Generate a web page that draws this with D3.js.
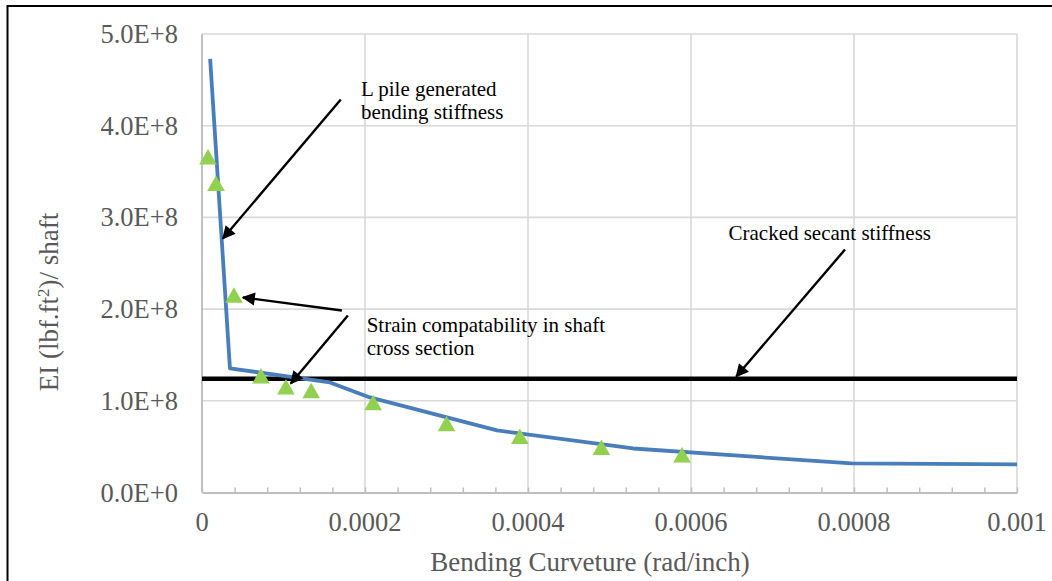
<!DOCTYPE html>
<html>
<head>
<meta charset="utf-8">
<script src="https://cdn.jsdelivr.net/npm/d3@7"></script>
<style>
  html, body { margin: 0; padding: 0; background: #ffffff; }
  svg { display: block; }
</style>
</head>
<body>
<svg id="chart" width="1052" height="581"></svg>
<script>
// LPILE-generated bending stiffness vs curvature
const lpileCurvature = [0.00001, 0.0000343, 0.000157, 0.000206, 0.000362, 0.000529, 0.000797, 0.001];
const lpileEI        = [4.73e8, 1.354e8, 1.20e8, 1.037e8, 0.677e8, 0.480e8, 0.317e8, 0.306e8];

// Strain compatibility results for the shaft cross section
const strainCurvature = [0.0000074, 0.0000172, 0.0000392, 0.0000723, 0.000103, 0.000134, 0.00021, 0.0003, 0.00039, 0.00049, 0.000589];
const strainEI        = [3.66e8, 3.37e8, 2.15e8, 1.27e8, 1.15e8, 1.11e8, 0.98e8, 0.75e8, 0.61e8, 0.49e8, 0.41e8];

// Cracked secant stiffness (constant)
const secantEI = 1.24e8;
const secantRange = [0, 0.001];

// Axis ticks
const xTicks = [0, 0.0002, 0.0004, 0.0006, 0.0008, 0.001];
const xTickLabels = ["0", "0.0002", "0.0004", "0.0006", "0.0008", "0.001"];
const xMinorTicks = d3.range(0, 0.001 + 1e-9, 0.00004);
const yTicks = [0, 1e8, 2e8, 3e8, 4e8, 5e8];
const yTickLabels = ["0.0E+0", "1.0E+8", "2.0E+8", "3.0E+8", "4.0E+8", "5.0E+8"];

// Callout arrows: [fromX, fromY, toX, toY] in data units
const arrows = [
  [0.0001703, 4.286e8, 0.0000257, 2.77e8],
  [0.0001716, 1.985e8, 0.0000502, 2.127e8],
  [0.000179, 1.93e8, 0.000109, 1.189e8],
  [0.000789, 2.65e8, 0.0006556, 1.265e8]
];
// Callout text: anchor (x, y of first baseline) and lines
const notes = [
  { x: 0.000195, y: 4.32e8, lines: ["L pile generated", "bending stiffness"] },
  { x: 0.000202, y: 1.745e8, lines: ["Strain compatability in shaft", "cross section"] },
  { x: 0.000646, y: 2.75e8, lines: ["Cracked secant stiffness"] }
];

const svg = d3.select("#chart");
const W = 1052, H = 581;
const plot = { left: 202, right: 1017, top: 34, bottom: 492.5 };

const x = d3.scaleLinear().domain([0, 0.001]).range([plot.left, plot.right]);
const y = d3.scaleLinear().domain([0, 5e8]).range([plot.bottom, plot.top]);

const serif = "'Liberation Serif', 'Times New Roman', serif";
const gray = "#595959";

// Outer chart frame (continues past the right and bottom edges)
svg.append("path")
  .attr("d", `M7.5,${H + 5} V6 H${W + 5}`)
  .attr("fill", "none").attr("stroke", "#000").attr("stroke-width", 2);

// Gridlines
const grid = svg.append("g").attr("stroke", "#d9d9d9").attr("stroke-width", 1.6);
yTicks.filter(v => v > 0).forEach(v => {
  grid.append("line").attr("x1", plot.left).attr("x2", plot.right)
    .attr("y1", y(v)).attr("y2", y(v));
});
xTicks.filter(v => v > 0).forEach(v => {
  grid.append("line").attr("x1", x(v)).attr("x2", x(v))
    .attr("y1", plot.top).attr("y2", plot.bottom);
});

// Axis lines
svg.append("line").attr("x1", plot.left).attr("x2", plot.left)
  .attr("y1", plot.top).attr("y2", plot.bottom)
  .attr("stroke", "#c0c0c0").attr("stroke-width", 2);

const xAxis = d3.axisBottom(x)
  .tickValues(xMinorTicks)
  .tickSize(-5)
  .tickSizeOuter(0)
  .tickFormat("");
const xg = svg.append("g").attr("transform", `translate(0,${plot.bottom})`).call(xAxis);
xg.select(".domain").attr("stroke", "#bfbfbf").attr("stroke-width", 2);
xg.selectAll(".tick line").attr("stroke", "#bfbfbf").attr("stroke-width", 1.5);

// X tick labels
svg.append("g").selectAll("text").data(xTicks).join("text")
  .attr("x", d => x(d)).attr("y", 531)
  .attr("text-anchor", "middle")
  .attr("font-family", serif).attr("font-size", 26.5).attr("fill", gray)
  .text((d, i) => xTickLabels[i]);

// Y tick labels
svg.append("g").selectAll("text").data(yTicks).join("text")
  .attr("x", 178).attr("y", d => y(d) + 9)
  .attr("text-anchor", "end")
  .attr("font-family", serif).attr("font-size", 26.5).attr("fill", gray)
  .text((d, i) => yTickLabels[i]);

// Axis titles
svg.append("text")
  .attr("x", 590).attr("y", 571)
  .attr("text-anchor", "middle")
  .attr("font-family", serif).attr("font-size", 27).attr("fill", gray)
  .text("Bending Curveture (rad/inch)");

const yTitle = svg.append("text")
  .attr("transform", "translate(58,302) rotate(-90)")
  .attr("text-anchor", "middle")
  .attr("font-family", serif).attr("font-size", 27).attr("fill", gray);
yTitle.append("tspan").text("EI (lbf.ft");
yTitle.append("tspan").attr("baseline-shift", "super").attr("font-size", 17).text("2");
yTitle.append("tspan").text(")/ shaft");

// Cracked secant stiffness line
svg.append("line")
  .attr("x1", x(secantRange[0])).attr("x2", x(secantRange[1]))
  .attr("y1", y(secantEI)).attr("y2", y(secantEI))
  .attr("stroke", "#000").attr("stroke-width", 4.5);

// LPILE curve
const lpile = lpileCurvature.map((c, i) => [c, lpileEI[i]]);
svg.append("path")
  .datum(lpile)
  .attr("fill", "none")
  .attr("stroke", "#4a7ebb")
  .attr("stroke-width", 3.8)
  .attr("stroke-linejoin", "round")
  .attr("d", d3.line().x(d => x(d[0])).y(d => y(d[1])));

// Strain compatibility triangles
const strain = strainCurvature.map((c, i) => [c, strainEI[i]]);
svg.append("g").selectAll("path").data(strain).join("path")
  .attr("transform", d => `translate(${x(d[0])},${y(d[1])})`)
  .attr("d", "M0,-8 L8.8,7.5 L-8.8,7.5 Z")
  .attr("fill", "#92d050");

// Arrowhead marker
svg.append("defs").append("marker")
  .attr("id", "head")
  .attr("viewBox", "0 0 10 10")
  .attr("refX", 9).attr("refY", 5)
  .attr("markerWidth", 6.5).attr("markerHeight", 5.5)
  .attr("markerUnits", "strokeWidth")
  .attr("orient", "auto")
  .append("path").attr("d", "M0,0 L10,5 L0,10 Z").attr("fill", "#000");

svg.append("g").selectAll("line").data(arrows).join("line")
  .attr("x1", d => x(d[0])).attr("y1", d => y(d[1]))
  .attr("x2", d => x(d[2])).attr("y2", d => y(d[3]))
  .attr("stroke", "#000").attr("stroke-width", 2.4)
  .attr("marker-end", "url(#head)");

// Callout text
notes.forEach(n => {
  const t = svg.append("text")
    .attr("font-family", serif).attr("font-size", 21).attr("fill", "#000");
  n.lines.forEach((line, i) => {
    t.append("tspan").attr("x", x(n.x)).attr("y", y(n.y) + i * 23).text(line);
  });
});
</script>
</body>
</html>
